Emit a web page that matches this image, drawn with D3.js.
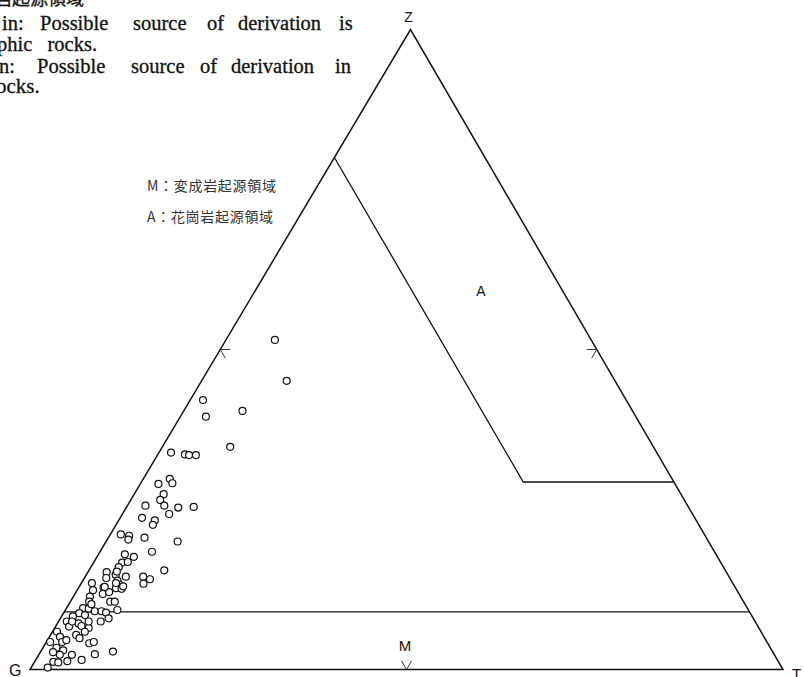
<!DOCTYPE html>
<html>
<head>
<meta charset="utf-8">
<script src="https://cdn.jsdelivr.net/npm/d3@7"></script>
<style>
  html, body { margin: 0; padding: 0; background: #fff; overflow: hidden; }
  svg { display: block; }
</style>
</head>
<body>
<svg id="chart" width="804" height="677"></svg>
<script>
// ---- data: garnet compositions, percent of each end member ----
const vertexNames = ["G", "T", "Z"];

const sampleZ = [51.5, 45.1, 42.1, 39.5, 40.4, 34.8, 33.9, 33.6, 33.5, 33.5,
  29.8, 29.1, 29.0, 27.4, 26.5, 25.6, 25.6, 25.3, 25.4, 24.3,
  23.7, 23.3, 22.6, 21.1, 20.9, 20.3, 20.6, 20.0, 18.0, 17.6,
  18.4, 16.7, 16.8, 16.0, 15.5, 15.2, 14.8, 14.5, 14.5, 14.1,
  14.3, 13.9, 13.2, 12.7, 12.6, 13.5, 12.4, 12.8, 11.8, 11.4,
  12.1, 10.6, 10.6, 9.3, 10.6, 9.6, 9.5, 9.1, 9.1, 8.9,
  8.0, 7.5, 8.8, 8.3, 7.5, 6.7, 7.2, 6.8, 6.5, 5.4,
  4.9, 4.1, 4.3, 5.9, 5.1, 4.3, 4.3, 4.6, 3.4, 2.7,
  3.0, 2.3, 2.3, 1.3, 1.2, 1.1, 0.3, 1.5, 2.4, 2.8,
  13.4, 15.3, 13.5, 13.0, 12.9, 10.2, 8.5, 7.5, 5.9, 7.5];

const sampleT = [6.5, 11.3, 1.7, 3.4, 7.8, 9.0, 1.6, 3.6, 4.2, 5.1,
  3.5, 4.2, 2.4, 3.9, 3.9, 4.9, 2.4, 6.9, 8.9, 6.2,
  2.9, 4.8, 4.9, 1.4, 2.6, 2.8, 4.8, 9.5, 3.5, 4.9,
  6.9, 3.8, 4.5, 3.7, 10.0, 2.5, 3.9, 5.4, 7.7, 8.8,
  2.9, 4.6, 5.3, 5.0, 5.8, 1.4, 2.1, 3.3, 3.7, 2.2,
  4.4, 5.3, 5.9, 6.9, 2.5, 2.2, 3.0, 4.0, 4.9, 5.6,
  6.4, 5.6, 2.1, 1.5, 1.1, 1.8, 2.8, 3.4, 4.5, 3.4,
  4.1, 5.8, 6.3, 0.6, 1.4, 0.5, 2.1, 2.5, 1.8, 1.7,
  2.9, 2.8, 4.4, 4.3, 2.5, 3.2, 2.2, 6.1, 7.4, 9.6,
  8.3, 3.8, 4.6, 5.8, 3.4, 3.0, 3.0, 4.0, 4.3, 1.8];

const sampleG = [42.0, 43.6, 56.2, 57.1, 51.8, 56.2, 64.5, 62.8, 62.3, 61.4,
  66.7, 66.7, 68.6, 68.7, 69.6, 69.5, 72.0, 67.8, 65.7, 69.5,
  73.4, 71.9, 72.5, 77.5, 76.5, 76.9, 74.6, 70.5, 78.5, 77.5,
  74.7, 79.5, 78.7, 80.3, 74.5, 82.3, 81.3, 80.1, 77.8, 77.1,
  82.8, 81.5, 81.5, 82.3, 81.6, 85.1, 85.5, 83.9, 84.5, 86.4,
  83.5, 84.1, 83.5, 83.8, 86.9, 88.2, 87.5, 86.9, 86.0, 85.5,
  85.6, 86.9, 89.1, 90.2, 91.4, 91.5, 90.0, 89.8, 89.0, 91.2,
  91.0, 90.1, 89.4, 93.5, 93.5, 95.2, 93.6, 92.9, 94.8, 95.6,
  94.1, 94.9, 93.3, 94.4, 96.3, 95.7, 97.5, 92.4, 90.2, 87.6,
  78.3, 80.9, 81.9, 81.2, 83.7, 86.8, 88.5, 88.5, 89.8, 90.7];

// field boundaries (percent)
const fieldA_maxG = 20;    // granitic field: G below this
const fieldA_minZ = 29.3;  // and Z above this
const fieldM_maxZ = 9.0;   // metamorphic field: Z below this

const fieldNames = ["M", "A"];
const legendLines = ["M：変成岩起源領域", "A：花崗岩起源領域"];
const noteLines = [
  ["岩起源領域"],
  ["in:", "Possible", "source", "of", "derivation", "is"],
  ["phic", "rocks."],
  ["n:", "Possible", "source", "of", "derivation", "in"],
  ["ocks."]
];

// ---- geometry of the triangle ----
const corner = { G: [30, 669.5], T: [783, 669.5], Z: [410.5, 29.5] };

const zY = d3.scaleLinear().domain([0, 100]).range([corner.G[1], corner.Z[1]]);
const tX = d3.scaleLinear().domain([0, 100]).range([0, corner.T[0] - corner.G[0]]);
const zX = d3.scaleLinear().domain([0, 100]).range([0, corner.Z[0] - corner.G[0]]);

// project a (T, Z) composition; G is the remainder
function proj(t, z) {
  return [corner.G[0] + tX(t) + zX(z), zY(z)];
}

const svg = d3.select("#chart");
const ink = "#111";

// outer triangle
const tri = [proj(0, 0), proj(100, 0), proj(0, 100)];
svg.append("path")
  .attr("d", d3.line()(tri) + "Z")
  .attr("fill", "none")
  .attr("stroke", ink)
  .attr("stroke-width", 1.5)
  .attr("stroke-linejoin", "miter");

// granitic field: G = const line then Z = const line
const aStartZ = 100 - fieldA_maxG;
const aCornerT = 100 - fieldA_maxG - fieldA_minZ;
const aEndT = 100 - fieldA_minZ;
svg.append("path")
  .attr("d", d3.line()([proj(0, aStartZ), proj(aCornerT, fieldA_minZ), proj(aEndT, fieldA_minZ)]))
  .attr("fill", "none")
  .attr("stroke", ink)
  .attr("stroke-width", 1.3);

// metamorphic field: Z = const line across the triangle
svg.append("path")
  .attr("d", d3.line()([proj(0, fieldM_maxZ), proj(100 - fieldM_maxZ, fieldM_maxZ)]))
  .attr("fill", "none")
  .attr("stroke", ink)
  .attr("stroke-width", 1.2);

// arrow ticks at the side midpoints, pointing outward
const centroid = [(tri[0][0] + tri[1][0] + tri[2][0]) / 3, (tri[0][1] + tri[1][1] + tri[2][1]) / 3];
[[tri[0], tri[1]], [tri[1], tri[2]], [tri[2], tri[0]]].forEach(([a, b]) => {
  const m = [(a[0] + b[0]) / 2, (a[1] + b[1]) / 2];
  let nx = centroid[0] - m[0], ny = centroid[1] - m[1];
  const L = Math.hypot(nx, ny); nx /= L; ny /= L;
  const len = 10, ang = Math.PI / 6;
  const arm = s => [m[0] + len * (nx * Math.cos(s * ang) - ny * Math.sin(s * ang)),
                    m[1] + len * (nx * Math.sin(s * ang) + ny * Math.cos(s * ang))];
  svg.append("path")
    .attr("d", d3.line()([arm(1), m, arm(-1)]))
    .attr("fill", "none")
    .attr("stroke", "#333")
    .attr("stroke-width", 1);
});

// sample points
const samples = sampleZ.map((z, i) => ({ g: sampleG[i], t: sampleT[i], z }));
svg.append("g").selectAll("circle")
  .data(samples)
  .join("circle")
  .attr("cx", d => proj(d.t, d.z)[0])
  .attr("cy", d => proj(d.t, d.z)[1])
  .attr("r", 3.5)
  .attr("fill", "#fff")
  .attr("stroke", ink)
  .attr("stroke-width", 1.2);

// corner labels
const sans = "'Liberation Sans', Arial, sans-serif";
svg.append("text").text(vertexNames[2])
  .attr("x", corner.Z[0] - 2).attr("y", 22)
  .attr("text-anchor", "middle").attr("font-family", sans).attr("font-size", 14).attr("fill", ink);
svg.append("text").text(vertexNames[0])
  .attr("x", 9).attr("y", 676)
  .attr("font-family", sans).attr("font-size", 16).attr("fill", ink);
svg.append("text").text(vertexNames[1])
  .attr("x", 792).attr("y", 679)
  .attr("font-family", sans).attr("font-size", 15).attr("fill", ink);

// field labels
svg.append("text").text(fieldNames[1])
  .attr("x", 481).attr("y", 296)
  .attr("text-anchor", "middle").attr("font-family", sans).attr("font-size", 14).attr("fill", ink);
svg.append("text").text(fieldNames[0])
  .attr("x", 405).attr("y", 651)
  .attr("text-anchor", "middle").attr("font-family", sans).attr("font-size", 15).attr("fill", ink);

// legend
const cjk = "'Noto Sans CJK JP', 'Noto Sans CJK SC', sans-serif";
legendLines.forEach((s, i) => {
  svg.append("text").text(s)
    .attr("x", 147).attr("y", 191 + i * 31)
    .attr("font-family", cjk).attr("font-size", 14)
    .attr("letter-spacing", 0.7)
    .attr("fill", "#333");
});

// caption fragments along the top-left edge, one tspan per word
const serif = "'Liberation Serif', 'Times New Roman', serif";
const noteLayout = [
  { y: 5,  xs: [-6],                         f: cjk,   s: 18 },
  { y: 30, xs: [2, 40, 133, 207, 238, 339],  f: serif, s: 20.5 },
  { y: 51, xs: [-3, 47.5],                   f: serif, s: 20.5 },
  { y: 73, xs: [-1, 37, 131, 200, 231, 335], f: serif, s: 20.5 },
  { y: 93, xs: [-4],                         f: serif, s: 21 }
];
noteLines.forEach((words, i) => {
  const p = noteLayout[i];
  const t = svg.append("text")
    .attr("y", p.y)
    .attr("font-family", p.f).attr("font-size", p.s)
    .attr("fill", ink)
    .attr("stroke", ink).attr("stroke-width", 0.3);
  t.selectAll("tspan").data(words).join("tspan")
    .attr("x", (w, j) => p.xs[j])
    .text(w => w);
});
</script>
</body>
</html>
